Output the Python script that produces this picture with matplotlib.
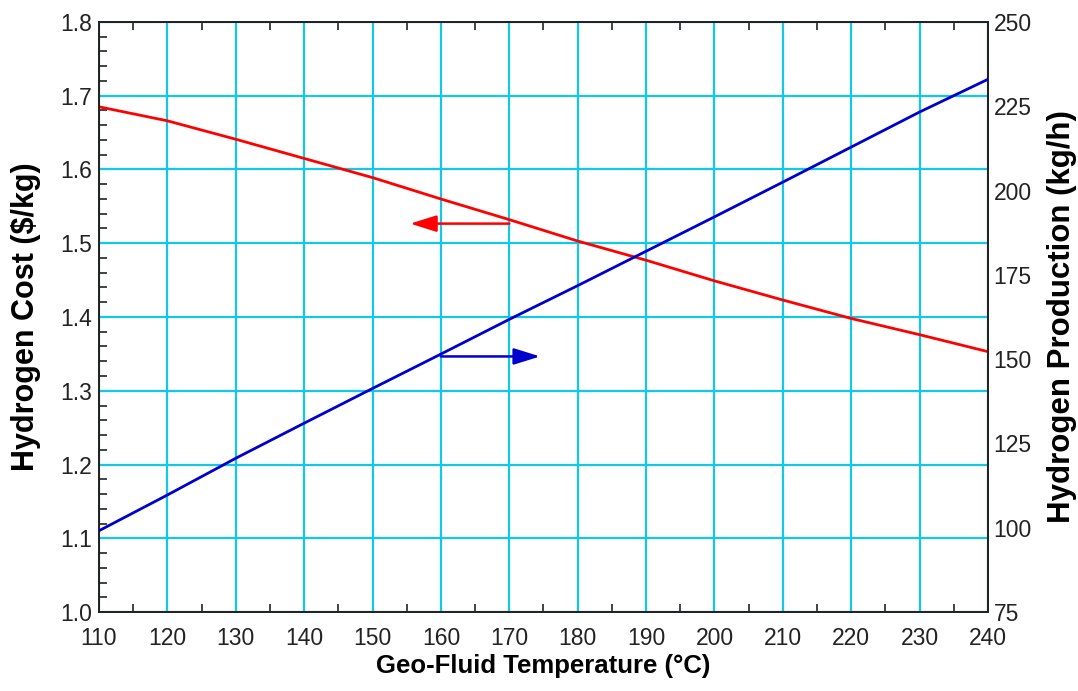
import matplotlib
matplotlib.use("Agg")
import matplotlib.pyplot as plt
from matplotlib.ticker import MultipleLocator

plt.rcParams['font.family'] = ['Liberation Sans', 'DejaVu Sans']

temperature = [110, 120, 130, 140, 150, 160, 170, 180, 190, 200, 210, 220, 230, 240]
cost = [1.685, 1.666, 1.641, 1.615, 1.589, 1.560, 1.532, 1.503, 1.477, 1.449, 1.423, 1.398, 1.376, 1.353]
production = [99.1, 109.7, 120.6, 131.0, 141.3, 151.5, 161.8, 171.8, 182.0, 192.2, 202.5, 212.9, 223.3, 233.0]

xticks = [110, 120, 130, 140, 150, 160, 170, 180, 190, 200, 210, 220, 230, 240]
left_ticks = [1.0, 1.1, 1.2, 1.3, 1.4, 1.5, 1.6, 1.7, 1.8]
right_ticks = [75, 100, 125, 150, 175, 200, 225, 250]

red_arrow = (170, 155.5, 1.5266)
blue_arrow = (160, 174.5, 150.8)

fig = plt.figure(figsize=(10.78, 6.91), dpi=100)
ax = fig.add_axes([0.0918, 0.1143, 0.8247, 0.8539])
ax2 = ax.twinx()

grid_color = '#12C8E6'
ax.set_xlim(110, 240)
ax.set_ylim(1.0, 1.8)
ax2.set_ylim(75, 250)
ax.set_xticks(xticks)
ax.set_yticks(left_ticks)
ax.set_yticklabels([f"{v:.1f}" for v in left_ticks])
ax2.set_yticks(right_ticks)
ax.xaxis.set_minor_locator(MultipleLocator(5))
ax.yaxis.set_minor_locator(MultipleLocator(0.02))

ax.grid(True, which='major', color=grid_color, linewidth=1.6)
ax.set_axisbelow(True)

ax.tick_params(axis='both', which='major', direction='in', length=0, labelsize=16.5, colors='#222222')
ax.tick_params(axis='x', which='major', pad=11)
ax.tick_params(axis='y', which='major', pad=5)
ax.tick_params(axis='x', which='minor', direction='in', length=6, width=1.2, top=True, bottom=True, color='#222222')
ax.tick_params(axis='y', which='minor', direction='in', length=6, width=1.2, left=True, right=False, color='#222222')
ax2.tick_params(axis='y', which='major', length=0, labelsize=16.5, pad=4, colors='#222222')
ax2.tick_params(axis='y', which='minor', length=0)

for a in (ax, ax2):
    for s in a.spines.values():
        s.set_linewidth(1.3)
        s.set_color('#222222')

ax.plot(temperature, cost, color='#FF0000', linewidth=2.0, zorder=3)
ax2.plot(temperature, production, color='#0000CC', linewidth=2.0, zorder=3)

arrow_style = '-|>,head_length=0.8,head_width=0.25'
ax.annotate('', xy=(red_arrow[1], red_arrow[2]), xytext=(red_arrow[0], red_arrow[2]),
            arrowprops=dict(arrowstyle=arrow_style, mutation_scale=20,
                            color='#FF0000', lw=1.8, shrinkA=0, shrinkB=0), zorder=4)
ax2.annotate('', xy=(blue_arrow[1], blue_arrow[2]), xytext=(blue_arrow[0], blue_arrow[2]),
             arrowprops=dict(arrowstyle=arrow_style, mutation_scale=20,
                             color='#0000CC', lw=1.8, shrinkA=0, shrinkB=0), zorder=4)

ax.set_xlabel('Geo-Fluid Temperature (°C)', fontsize=18.5, fontweight='bold')
ax.xaxis.set_label_coords(0.5, -0.071)
ax.set_ylabel('Hydrogen Cost ($/kg)', fontsize=22, fontweight='bold')
ax.yaxis.set_label_coords(-0.065, 0.5)
ax2.set_ylabel('Hydrogen Production (kg/h)', fontsize=22.5, fontweight='bold')
ax2.yaxis.set_label_coords(1.0664, 0.5)

fig.savefig('out.png', dpi=100)
